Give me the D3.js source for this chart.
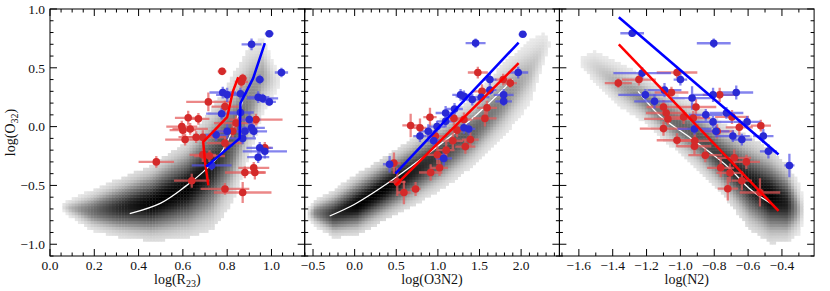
<!DOCTYPE html>
<html>
<head>
<meta charset="utf-8">
<script src="https://cdn.jsdelivr.net/npm/d3@7"></script>
<style>
	body { margin: 0; background: #fff; }
	text { font-family: "Liberation Serif", "DejaVu Serif", serif; fill: #111; }
</style>
</head>
<body>
<svg id="chart" width="830" height="291"></svg>
<script>
	'use strict';

	// shared y axis: log(O32)
	var yDomain = [-1.1, 1.0],
			yMajor = [-1.0, -0.5, 0.0, 0.5, 1.0],
			yMinorStep = 0.1,
			binY = 0.025;

	// panel 1: log(R23)
	var r23Domain = [0, 1.15],
			r23Major = [0.0, 0.2, 0.4, 0.6, 0.8, 1.0],
			r23MinorStep = 0.05,
			r23BinX = 0.014;
	// cloud slices: [x, y centre, half extent, darkness]
	var r23Cloud = [[0.05, -0.68, 0.03, 0.0], [0.09, -0.69, 0.07, 0.2], [0.19, -0.71, 0.16, 0.5], [0.31, -0.69, 0.23, 0.8],
		[0.46, -0.65, 0.30, 1.0], [0.62, -0.53, 0.38, 1.0], [0.73, -0.36, 0.48, 0.85],
		[0.82, -0.12, 0.50, 0.6], [0.90, 0.22, 0.44, 0.4], [0.96, 0.43, 0.30, 0.28], [1.01, 0.40, 0.15, 0.08], [1.04, 0.4, 0.08, 0.0]];
	var r23White = [[0.36, -0.74], [0.5, -0.65], [0.61, -0.51], [0.7, -0.37], [0.77, -0.23], [0.83, 0.0], [0.87, 0.22]];
	var r23RedLine = [[0.715, -0.50], [0.70, -0.30], [0.692, -0.13], [0.80, 0.08], [0.826, 0.30], [0.85, 0.42]];
	var r23BlueLine = [[0.705, -0.34], [0.856, -0.10], [0.86, 0.20], [0.917, 0.41], [0.97, 0.71]];
	// [x, y, xerr, yerr]
	var r23Blue = [[0.99, 0.79, 0.02, 0.03], [0.91, 0.70, 0.045, 0.05], [1.045, 0.46, 0.03, 0.04], [0.947, 0.40, 0.02, 0.04],
		[0.78, 0.29, 0.06, 0.05], [0.86, 0.28, 0.03, 0.05], [0.94, 0.25, 0.05, 0.05], [0.96, 0.24, 0.07, 0.04],
		[0.99, 0.21, 0.03, 0.03], [0.80, 0.27, 0.05, 0.06], [0.775, 0.11, 0.07, 0.05], [0.86, 0.12, 0.06, 0.05],
		[0.90, 0.06, 0.05, 0.06], [0.91, -0.01, 0.06, 0.05], [0.75, -0.07, 0.05, 0.05], [0.87, -0.10, 0.06, 0.05],
		[0.88, -0.04, 0.04, 0.04], [0.80, -0.04, 0.07, 0.06], [0.97, -0.21, 0.10, 0.06], [0.94, -0.26, 0.05, 0.05],
		[0.947, -0.18, 0.06, 0.05], [0.92, -0.04, 0.06, 0.05], [0.73, -0.33, 0.09, 0.04]];
	var r23Red = [[0.777, 0.47, 0.02, 0.03], [0.87, 0.41, 0.02, 0.04], [0.864, 0.38, 0.03, 0.05], [0.715, 0.21, 0.10, 0.08],
		[0.79, 0.17, 0.06, 0.05], [0.624, 0.075, 0.06, 0.06], [0.67, 0.066, 0.05, 0.05], [0.595, 0.0, 0.07, 0.05],
		[0.60, -0.03, 0.06, 0.05], [0.633, -0.02, 0.08, 0.05], [0.84, 0.03, 0.10, 0.06], [0.93, 0.06, 0.12, 0.05],
		[0.69, -0.09, 0.11, 0.06], [0.61, -0.11, 0.09, 0.05], [0.79, -0.14, 0.08, 0.05], [0.825, -0.04, 0.06, 0.06],
		[0.69, -0.24, 0.06, 0.06], [0.72, -0.25, 0.07, 0.05], [0.48, -0.30, 0.08, 0.05], [0.64, -0.46, 0.08, 0.06],
		[0.79, -0.53, 0.11, 0.05], [0.87, -0.56, 0.13, 0.09], [0.88, -0.39, 0.09, 0.05], [0.92, -0.35, 0.07, 0.05],
		[0.925, -0.39, 0.05, 0.06], [0.97, -0.18, 0.03, 0.05], [0.66, -0.09, 0.05, 0.05]];

	// panel 2: log(O3N2)
	var o3n2Domain = [-0.6, 2.46],
			o3n2Major = [-0.5, 0.0, 0.5, 1.0, 1.5, 2.0],
			o3n2MinorStep = 0.1,
			o3n2BinX = 0.036;
	var o3n2Cloud = [[-0.57, -0.74, 0.04, 0.0], [-0.47, -0.73, 0.11, 0.4], [-0.25, -0.74, 0.19, 0.78], [0.03, -0.66, 0.24, 1.0],
		[0.35, -0.53, 0.25, 1.0], [0.71, -0.38, 0.27, 0.85], [1.07, -0.22, 0.28, 0.7],
		[1.43, -0.04, 0.27, 0.55], [1.79, 0.23, 0.29, 0.4], [2.11, 0.47, 0.25, 0.2], [2.27, 0.67, 0.15, 0.07], [2.35, 0.72, 0.08, 0.0]];
	var o3n2White = [[-0.3, -0.76], [0.0, -0.66], [0.4, -0.48], [0.9, -0.22], [1.3, 0.0], [1.6, 0.19], [1.9, 0.40]];
	var o3n2RedLine = [[0.49, -0.50], [1.97, 0.54]];
	var o3n2BlueLine = [[0.49, -0.40], [1.97, 0.715]];
	var o3n2Blue = [[2.02, 0.785, 0.05, 0.02], [1.453, 0.71, 0.12, 0.04], [1.965, 0.46, 0.12, 0.05], [1.625, 0.40, 0.08, 0.05],
		[1.273, 0.27, 0.10, 0.05], [1.313, 0.257, 0.10, 0.05], [1.413, 0.23, 0.08, 0.05], [1.52, 0.25, 0.10, 0.04],
		[1.79, 0.27, 0.12, 0.05], [1.79, 0.215, 0.10, 0.04], [1.625, 0.31, 0.08, 0.04], [1.093, 0.116, 0.12, 0.06],
		[0.885, -0.04, 0.10, 0.06], [0.785, -0.08, 0.08, 0.05], [1.093, 0.045, 0.10, 0.05], [1.313, -0.01, 0.10, 0.05],
		[1.37, -0.02, 0.08, 0.05], [1.07, -0.27, 0.10, 0.06], [0.42, -0.32, 0.08, 0.07], [0.99, 0.0, 0.10, 0.05],
		[1.2, 0.15, 0.10, 0.05], [0.95, -0.12, 0.08, 0.06]];
	var o3n2Red = [[1.48, 0.46, 0.12, 0.05], [1.785, 0.40, 0.10, 0.05], [1.53, 0.30, 0.12, 0.06], [1.87, 0.37, 0.08, 0.04],
		[1.59, 0.16, 0.12, 0.06], [1.565, 0.07, 0.14, 0.07], [1.313, 0.06, 0.10, 0.06], [1.193, 0.07, 0.10, 0.06],
		[0.905, 0.08, 0.08, 0.08], [0.673, 0.01, 0.10, 0.10], [0.785, -0.01, 0.08, 0.08], [0.97, -0.08, 0.10, 0.08],
		[1.18, -0.12, 0.12, 0.07], [1.33, -0.17, 0.12, 0.06], [0.993, -0.24, 0.12, 0.08], [0.913, -0.39, 0.14, 0.07],
		[1.02, -0.35, 0.10, 0.07], [0.472, -0.31, 0.08, 0.09], [0.592, -0.56, 0.08, 0.10], [0.732, -0.53, 0.06, 0.06],
		[0.512, -0.47, 0.10, 0.12], [1.23, -0.03, 0.10, 0.06], [1.39, -0.11, 0.10, 0.06], [1.1, -0.2, 0.10, 0.07]];

	// panel 3: log(N2)
	var n2Domain = [-1.715, -0.21],
			n2Major = [-1.6, -1.4, -1.2, -1.0, -0.8, -0.6, -0.4],
			n2MinorStep = 0.1,
			n2BinX = 0.018;
	var n2Cloud = [[-1.6, 0.56, 0.06, 0.0], [-1.51, 0.51, 0.14, 0.1], [-1.376, 0.37, 0.17, 0.25], [-1.22, 0.24, 0.18, 0.4],
		[-1.063, 0.07, 0.21, 0.5], [-0.905, -0.08, 0.25, 0.6], [-0.748, -0.28, 0.28, 0.75],
		[-0.59, -0.48, 0.37, 0.9], [-0.47, -0.59, 0.37, 1.0], [-0.37, -0.65, 0.31, 0.85], [-0.30, -0.70, 0.20, 0.25], [-0.27, -0.70, 0.1, 0.0]];
	var n2White = [[-1.25, 0.30], [-1.118, 0.088], [-0.94, -0.096], [-0.724, -0.336], [-0.586, -0.534], [-0.458, -0.66]];
	var n2RedLine = [[-1.364, 0.70], [-0.42, -0.717]];
	var n2BlueLine = [[-1.364, 0.93], [-0.42, -0.237]];
	var n2Blue = [[-1.285, 0.794, 0.07, 0.03], [-0.803, 0.709, 0.10, 0.04], [-1.226, 0.455, 0.17, 0.05], [-1.00, 0.40, 0.04, 0.05],
		[-1.207, 0.27, 0.16, 0.05], [-1.153, 0.215, 0.12, 0.06], [-1.094, 0.31, 0.10, 0.06], [-0.931, 0.243, 0.12, 0.10],
		[-0.807, 0.27, 0.12, 0.06], [-0.67, 0.29, 0.10, 0.06], [-0.85, 0.10, 0.10, 0.05], [-0.807, 0.04, 0.12, 0.05],
		[-0.728, 0.116, 0.10, 0.05], [-0.606, 0.04, 0.08, 0.05], [-0.917, -0.02, 0.10, 0.05], [-0.69, -0.08, 0.10, 0.05],
		[-0.637, -0.11, 0.06, 0.05], [-0.51, -0.08, 0.06, 0.06], [-0.48, -0.21, 0.05, 0.06], [-0.356, -0.33, 0.03, 0.10],
		[-0.79, -0.04, 0.08, 0.05]];
	var n2Red = [[-1.02, 0.46, 0.12, 0.05], [-1.367, 0.37, 0.08, 0.04], [-1.245, 0.40, 0.10, 0.05], [-1.053, 0.29, 0.10, 0.05],
		[-1.10, 0.167, 0.10, 0.06], [-1.084, 0.116, 0.12, 0.06], [-1.074, 0.065, 0.14, 0.05], [-1.10, -0.017, 0.14, 0.06],
		[-1.02, -0.116, 0.12, 0.06], [-0.981, 0.082, 0.10, 0.06], [-0.908, 0.167, 0.12, 0.07], [-0.924, 0.073, 0.10, 0.06],
		[-0.768, 0.27, 0.10, 0.06], [-0.695, 0.082, 0.10, 0.06], [-0.652, -0.006, 0.08, 0.07], [-0.525, 0.008, 0.06, 0.05],
		[-0.783, -0.04, 0.10, 0.06], [-0.917, -0.167, 0.10, 0.07], [-0.915, -0.12, 0.10, 0.06], [-0.853, -0.243, 0.10, 0.06],
		[-0.762, -0.35, 0.08, 0.08], [-0.707, -0.393, 0.08, 0.08], [-0.682, -0.265, 0.10, 0.07], [-0.61, -0.30, 0.08, 0.06],
		[-0.637, -0.46, 0.06, 0.08], [-0.72, -0.528, 0.06, 0.10], [-0.53, -0.56, 0.12, 0.12]];

	var panels = [
		{ domain: r23Domain, major: r23Major, minorStep: r23MinorStep, binX: r23BinX, label: ['log(R', '23', ')'],
			cloud: r23Cloud, white: r23White, redLine: r23RedLine, blueLine: r23BlueLine, blue: r23Blue, red: r23Red },
		{ domain: o3n2Domain, major: o3n2Major, minorStep: o3n2MinorStep, binX: o3n2BinX, label: ['log(O3N2)', '', ''],
			cloud: o3n2Cloud, white: o3n2White, redLine: o3n2RedLine, blueLine: o3n2BlueLine, blue: o3n2Blue, red: o3n2Red },
		{ domain: n2Domain, major: n2Major, minorStep: n2MinorStep, binX: n2BinX, label: ['log(N2)', '', ''],
			cloud: n2Cloud, white: n2White, redLine: n2RedLine, blueLine: n2BlueLine, blue: n2Blue, red: n2Red }
	];

	var plotLeft = 50, plotTop = 9, panelW = 254.7, plotBottom = 256,
			majorLen = 7, minorLen = 3.5,
			fmt = d3.format('.1f');

	var svg = d3.select('#chart');

	var y = d3.scaleLinear().domain(yDomain).range([plotBottom, plotTop]);

	function minorTicks(domain, step) {
		var lo = Math.ceil(domain[0] / step - 1e-6), hi = Math.floor(domain[1] / step + 1e-6);
		return d3.range(lo, hi + 1).map(function (i) { return +(i * step).toFixed(3); });
	}

	panels.forEach(function (p, i) {
		var x0 = plotLeft + i * panelW,
				x = d3.scaleLinear().domain(p.domain).range([x0, x0 + panelW]);

		var g = svg.append('g');
		var clipId = 'clip' + i;
		g.append('clipPath').attr('id', clipId).append('rect')
			.attr('x', x0).attr('y', plotTop).attr('width', panelW).attr('height', plotBottom - plotTop);
		var plot = g.append('g').attr('clip-path', 'url(#' + clipId + ')');

		// 2D histogram of the background sample, built from read slices
		var sx = p.cloud.map(function (d) { return d[0]; }),
				cScale = d3.scaleLinear().domain(sx).range(p.cloud.map(function (d) { return d[1]; })),
				hScale = d3.scaleLinear().domain(sx).range(p.cloud.map(function (d) { return d[2]; })),
				pScale = d3.scaleLinear().domain(sx).range(p.cloud.map(function (d) { return d[3]; }));
		var cells = [];
		d3.range(p.domain[0], p.domain[1], p.binX).forEach(function (bx) {
			var cx = bx + p.binX / 2;
			if (cx < sx[0] || cx > sx[sx.length - 1]) return;
			var c = cScale(cx), s = hScale(cx) / 2.2, pk = pScale(cx);
			d3.range(yDomain[0], yDomain[1], binY).forEach(function (by) {
				var cy = by + binY / 2,
						e = Math.exp(-0.5 * Math.pow((cy - c) / s, 2)),
						t = pk * e;
				if (e < 0.06 || t < 0.012) return;
				cells.push({ x: bx, y: by, t: t });
			});
		});
		plot.selectAll('rect.cell').data(cells).join('rect')
			.attr('class', 'cell')
			.attr('x', function (d) { return x(d.x); })
			.attr('y', function (d) { return y(d.y + binY); })
			.attr('width', function (d) { return x(d.x + p.binX) - x(d.x) + 0.4; })
			.attr('height', function (d) { return y(d.y) - y(d.y + binY) + 0.4; })
			.attr('fill', function (d) { return d3.interpolateGreys(0.12 + 0.88 * Math.pow(d.t, 0.75)); });

		var line = d3.line().x(function (d) { return x(d[0]); }).y(function (d) { return y(d[1]); });

		plot.append('path')
			.attr('fill', 'none').attr('stroke', '#fff').attr('stroke-width', 1.3)
			.attr('d', line.curve(d3.curveCatmullRom)(p.white));
		line.curve(d3.curveLinear);

		// error bars then markers
		[[p.red, 'rgba(228,90,90,0.72)'], [p.blue, 'rgba(85,85,232,0.72)']].forEach(function (set) {
			var eg = plot.append('g').attr('stroke', set[1]).attr('stroke-width', 2.3);
			eg.selectAll('line.xe').data(set[0]).join('line')
				.attr('class', 'xe')
				.attr('x1', function (d) { return x(d[0] - d[2]); }).attr('x2', function (d) { return x(d[0] + d[2]); })
				.attr('y1', function (d) { return y(d[1]); }).attr('y2', function (d) { return y(d[1]); });
			eg.selectAll('line.ye').data(set[0]).join('line')
				.attr('class', 'ye')
				.attr('x1', function (d) { return x(d[0]); }).attr('x2', function (d) { return x(d[0]); })
				.attr('y1', function (d) { return y(d[1] - d[3]); }).attr('y2', function (d) { return y(d[1] + d[3]); });
		});
		[[p.red, '#d42a2a'], [p.blue, '#2a2ad4']].forEach(function (set) {
			plot.append('g').selectAll('circle').data(set[0]).join('circle')
				.attr('cx', function (d) { return x(d[0]); })
				.attr('cy', function (d) { return y(d[1]); })
				.attr('r', 3.8)
				.attr('fill', set[1]);
		});

		plot.append('path').attr('fill', 'none').attr('stroke', '#ff0000').attr('stroke-width', 2.5)
			.attr('d', line(p.redLine));
		plot.append('path').attr('fill', 'none').attr('stroke', '#0000ff').attr('stroke-width', 2.5)
			.attr('d', line(p.blueLine));

		// frame and inward ticks
		var ax = g.append('g').attr('stroke', '#000').attr('stroke-width', 1);
		ax.append('rect').attr('x', x0).attr('y', plotTop).attr('width', panelW).attr('height', plotBottom - plotTop)
			.attr('fill', 'none');

		var xt = minorTicks(p.domain, p.minorStep).map(function (v) {
			return { v: v, major: p.major.some(function (m) { return Math.abs(m - v) < 1e-6; }) };
		});
		xt.forEach(function (t) {
			var len = t.major ? majorLen : minorLen;
			ax.append('line').attr('x1', x(t.v)).attr('x2', x(t.v)).attr('y1', plotBottom).attr('y2', plotBottom - len);
			ax.append('line').attr('x1', x(t.v)).attr('x2', x(t.v)).attr('y1', plotTop).attr('y2', plotTop + len);
		});
		var yt = minorTicks(yDomain, yMinorStep).map(function (v) {
			return { v: v, major: yMajor.some(function (m) { return Math.abs(m - v) < 1e-6; }) };
		});
		yt.forEach(function (t) {
			var len = t.major ? majorLen : minorLen;
			ax.append('line').attr('x1', x0).attr('x2', x0 + len).attr('y1', y(t.v)).attr('y2', y(t.v));
			ax.append('line').attr('x1', x0 + panelW).attr('x2', x0 + panelW - len).attr('y1', y(t.v)).attr('y2', y(t.v));
		});

		g.append('g').selectAll('text').data(p.major).join('text')
			.attr('x', function (d) { return x(d); })
			.attr('y', plotBottom + 13.5)
			.attr('text-anchor', 'middle')
			.attr('font-size', 13.5)
			.text(function (d) { return fmt(d); });

		var title = g.append('text')
			.attr('x', x0 + panelW / 2).attr('y', 284)
			.attr('text-anchor', 'middle').attr('font-size', 14);
		title.append('tspan').text(p.label[0]);
		if (p.label[1]) {
			title.append('tspan').attr('font-size', 10).attr('dy', 3).text(p.label[1]);
			title.append('tspan').attr('dy', -3).text(p.label[2]);
		}

		if (i === 0) {
			g.append('g').selectAll('text').data(yMajor).join('text')
				.attr('x', x0 - 5)
				.attr('y', function (d) { return y(d); })
				.attr('dy', '0.35em')
				.attr('text-anchor', 'end')
				.attr('font-size', 13.5)
				.text(function (d) { return fmt(d); });

			var yl = g.append('text')
				.attr('transform', 'translate(15,' + (plotTop + plotBottom) / 2 + ') rotate(-90)')
				.attr('text-anchor', 'middle').attr('font-size', 14);
			yl.append('tspan').text('log(O');
			yl.append('tspan').attr('font-size', 10).attr('dy', 3).text('32');
			yl.append('tspan').attr('dy', -3).text(')');
		}
	});
</script>
</body>
</html>
